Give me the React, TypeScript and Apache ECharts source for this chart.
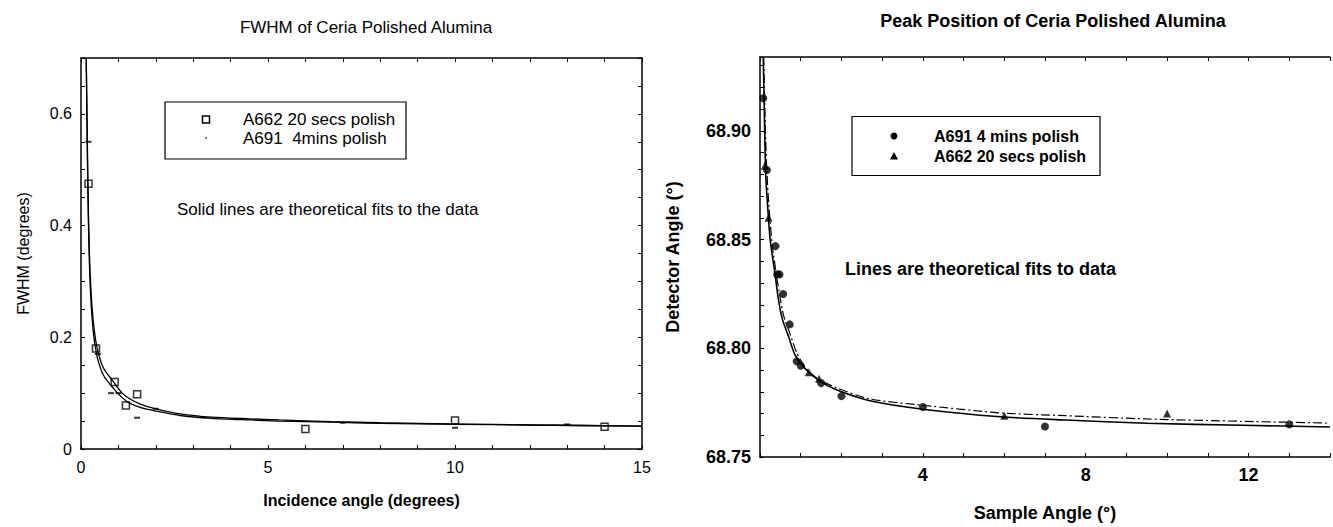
import React, { useEffect, useRef } from "react";
import * as echarts from "echarts";

// ---------- Left chart: FWHM ----------
const fwhmA662X = [0.2, 0.4, 0.9, 1.2, 1.5, 6, 10, 14];
const fwhmA662Y = [0.475, 0.18, 0.12, 0.078, 0.098, 0.036, 0.051, 0.04];
const fwhmA691X = [0.2, 0.45, 0.8, 1.0, 1.5, 2.0, 7, 10, 13];
const fwhmA691Y = [0.55, 0.17, 0.1, 0.1, 0.056, 0.072, 0.047, 0.038, 0.044];
const fwhmFitX = [0.14, 0.16, 0.18, 0.2, 0.23, 0.27, 0.32, 0.37, 0.45, 0.6, 0.86, 1.1, 1.3, 1.6, 2.0, 2.65, 3.5, 4.5, 5.3, 6.7, 8, 10, 12, 15];
const fwhmFitUpperY = [0.7, 0.6, 0.5, 0.42, 0.34, 0.28, 0.235, 0.205, 0.175, 0.145, 0.121, 0.1, 0.09, 0.08, 0.072, 0.063, 0.057, 0.054, 0.052, 0.049, 0.047, 0.045, 0.043, 0.041];
const fwhmFitLowerY = [0.7, 0.58, 0.48, 0.4, 0.32, 0.26, 0.215, 0.188, 0.16, 0.132, 0.109, 0.092, 0.082, 0.074, 0.068, 0.06, 0.055, 0.052, 0.05, 0.048, 0.046, 0.044, 0.043, 0.041];

// ---------- Right chart: Peak position ----------
const peakA691X = [0.08, 0.17, 0.38, 0.42, 0.48, 0.57, 0.73, 0.9, 1.0, 1.5, 2.0, 4.0, 7.0, 13.0];
const peakA691Y = [68.915, 68.882, 68.847, 68.834, 68.834, 68.825, 68.811, 68.794, 68.792, 68.784, 68.778, 68.773, 68.764, 68.765];
const peakA662X = [0.12, 0.21, 1.2, 1.45, 6.0, 10.0];
const peakA662Y = [68.884, 68.86, 68.789, 68.786, 68.769, 68.77];
const peakFitSolidX = [0.08, 0.1, 0.14, 0.2, 0.25, 0.3, 0.37, 0.44, 0.54, 0.7, 0.86, 1.14, 1.46, 1.86, 2.67, 4, 5.9, 7.5, 9.5, 11.85, 14];
const peakFitSolidY = [68.934, 68.915, 68.88, 68.862, 68.85, 68.843, 68.834, 68.824, 68.814, 68.8055, 68.797, 68.79, 68.785, 68.781, 68.776, 68.772, 68.7685, 68.767, 68.7655, 68.7646, 68.7638];
const peakFitDashX = [0.09, 0.12, 0.16, 0.22, 0.3, 0.4, 0.48, 0.58, 0.75, 0.9, 1.14, 1.46, 1.86, 2.67, 4, 5.9, 7.5, 9.5, 11.85, 14];
const peakFitDashY = [68.934, 68.91, 68.885, 68.865, 68.848, 68.834, 68.825, 68.815, 68.806, 68.798, 68.7905, 68.7855, 68.782, 68.7768, 68.7738, 68.7703, 68.769, 68.7675, 68.7664, 68.7656];

const leftTitle = "FWHM of Ceria Polished Alumina";
const rightTitle = "Peak Position of Ceria Polished Alumina";
const leftLegend = ["A662 20 secs polish", "A691  4mins polish"];
const rightLegend = ["A691 4 mins polish", "A662 20 secs polish"];
const leftNote = "Solid lines are theoretical fits to the data";
const rightNote = "Lines are theoretical fits to data";

const FF = "'Liberation Sans', Arial, Helvetica, sans-serif";

const zip = (xs: number[], ys: number[]) => xs.map((x, i) => [x, ys[i]]);

const baseAxis = (extra: any) => ({
  type: "value",
  axisLine: { show: true, onZero: false, lineStyle: { color: "#000", width: 1.5 } },
  axisTick: { show: true, inside: true, length: 4, lineStyle: { color: "#000", width: 1 } },
  splitLine: { show: false },
  ...extra,
});

export default function App() {
  const ref = useRef<HTMLDivElement>(null);
  useEffect(() => {
    if (!ref.current) return;
    const chart = echarts.init(ref.current, null, { renderer: "svg" });
    const lblL = { color: "#000", fontSize: 16, fontFamily: FF };
    const lblR = { color: "#000", fontSize: 18, fontWeight: "bold", fontFamily: FF };
    chart.setOption({
      animation: false,
      backgroundColor: "#fff",
      title: [
        {
          text: leftTitle,
          left: 361,
          top: 14,
          textAlign: "center",
          textStyle: { fontSize: 17, fontWeight: "normal", color: "#000", fontFamily: FF },
        },
        {
          text: rightTitle,
          left: 1048,
          top: 7,
          textAlign: "center",
          textStyle: { fontSize: 18, fontWeight: "bold", color: "#000", fontFamily: FF },
        },
      ],
      grid: [
        { left: 81, top: 58, width: 561, height: 391 },
        { left: 760, top: 57, width: 578, height: 404 },
      ],
      xAxis: [
        baseAxis({
          gridIndex: 0,
          position: "bottom",
          min: 0,
          max: 15,
          interval: 1,
          axisLabel: { ...lblL, margin: 10, formatter: (v: number) => (v % 5 === 0 ? String(v) : "") },
          name: "Incidence angle (degrees)",
          nameLocation: "middle",
          nameGap: 43,
          nameTextStyle: { fontSize: 16, fontWeight: "bold", color: "#000", fontFamily: FF },
        }),
        baseAxis({ gridIndex: 0, position: "top", min: 0, max: 15, interval: 1, axisLabel: { show: false } }),
        baseAxis({
          gridIndex: 1,
          position: "bottom",
          min: 0,
          max: 14,
          interval: 1,
          axisLabel: { ...lblR, margin: 9, formatter: (v: number) => (v > 0 && v % 4 === 0 ? String(v) : "") },
          name: "Sample Angle (°)",
          nameLocation: "middle",
          nameGap: 47,
          nameTextStyle: { fontSize: 18, fontWeight: "bold", color: "#000", fontFamily: FF },
        }),
        baseAxis({ gridIndex: 1, position: "top", min: 0, max: 14, interval: 1, axisLabel: { show: false } }),
      ],
      yAxis: [
        baseAxis({
          gridIndex: 0,
          position: "left",
          min: 0,
          max: 0.7,
          interval: 0.05,
          axisLabel: {
            ...lblL,
            margin: 9,
            formatter: (v: number) => {
              const k = Math.round(v / 0.05);
              return k % 4 === 0 ? (k === 0 ? "0" : String(+(k * 0.05).toFixed(1))) : "";
            },
          },
          name: "FWHM (degrees)",
          nameLocation: "middle",
          nameGap: 50,
          nameTextStyle: { fontSize: 16, fontWeight: "normal", color: "#000", fontFamily: FF },
        }),
        baseAxis({ gridIndex: 0, position: "right", min: 0, max: 0.7, interval: 0.05, axisLabel: { show: false } }),
        baseAxis({
          gridIndex: 1,
          position: "left",
          min: 68.75,
          max: 68.934,
          interval: 0.01,
          axisLabel: {
            ...lblR,
            margin: 9,
            formatter: (v: number) => {
              const k = Math.round(v * 100);
              return k % 5 === 0 ? (k / 100).toFixed(2) : "";
            },
          },
          name: "Detector Angle (°)",
          nameLocation: "middle",
          nameGap: 78,
          nameTextStyle: { fontSize: 18, fontWeight: "bold", color: "#000", fontFamily: FF },
        }),
      ],
      series: [
        {
          name: "fit A662",
          type: "line",
          xAxisIndex: 0,
          yAxisIndex: 0,
          data: zip(fwhmFitX, fwhmFitUpperY),
          showSymbol: false,
          smooth: 0.25,
          lineStyle: { color: "#000", width: 1.3 },
        },
        {
          name: "fit A691",
          type: "line",
          xAxisIndex: 0,
          yAxisIndex: 0,
          data: zip(fwhmFitX, fwhmFitLowerY),
          showSymbol: false,
          smooth: 0.25,
          lineStyle: { color: "#000", width: 1.3 },
        },
        {
          name: leftLegend[0],
          type: "scatter",
          xAxisIndex: 0,
          yAxisIndex: 0,
          data: zip(fwhmA662X, fwhmA662Y),
          symbol: "rect",
          symbolSize: 7,
          itemStyle: { color: "#fff", borderColor: "#000", borderWidth: 1.5 },
        },
        {
          name: leftLegend[1],
          type: "scatter",
          xAxisIndex: 0,
          yAxisIndex: 0,
          data: zip(fwhmA691X, fwhmA691Y),
          symbol: "rect",
          symbolSize: [6, 2],
          itemStyle: { color: "#000" },
        },
        {
          name: "fit solid",
          type: "line",
          xAxisIndex: 2,
          yAxisIndex: 2,
          data: zip(peakFitSolidX, peakFitSolidY),
          showSymbol: false,
          smooth: 0.25,
          lineStyle: { color: "#000", width: 1.6 },
        },
        {
          name: "fit dash",
          type: "line",
          xAxisIndex: 2,
          yAxisIndex: 2,
          data: zip(peakFitDashX, peakFitDashY),
          showSymbol: false,
          smooth: 0.25,
          lineStyle: { color: "#000", width: 1.2, type: [9, 3, 2, 3] },
        },
        {
          name: rightLegend[0],
          type: "scatter",
          xAxisIndex: 2,
          yAxisIndex: 2,
          data: zip(peakA691X, peakA691Y),
          symbol: "circle",
          symbolSize: 8,
          itemStyle: { color: "#000" },
        },
        {
          name: rightLegend[1],
          type: "scatter",
          xAxisIndex: 2,
          yAxisIndex: 2,
          data: zip(peakA662X, peakA662Y),
          symbol: "triangle",
          symbolSize: 8,
          itemStyle: { color: "#000" },
        },
      ],
      graphic: [
        {
          type: "text",
          x: 177,
          y: 209,
          style: { text: leftNote, fill: "#000", font: `17px ${FF}`, verticalAlign: "middle", textVerticalAlign: "middle" },
        },
        { type: "rect", shape: { x: 165, y: 102, width: 241, height: 57 }, style: { fill: "#fff", stroke: "#000", lineWidth: 1.2 }, z: 10 },
        { type: "rect", shape: { x: 202.5, y: 116, width: 7, height: 7 }, style: { fill: "#fff", stroke: "#000", lineWidth: 1.5 }, z: 11 },
        { type: "rect", shape: { x: 205, y: 137, width: 2, height: 2 }, style: { fill: "#777" }, z: 11 },
        {
          type: "text",
          x: 243,
          y: 119.5,
          z: 11,
          style: { text: leftLegend[0], fill: "#000", font: `17px ${FF}`, verticalAlign: "middle", textVerticalAlign: "middle" },
        },
        {
          type: "text",
          x: 243,
          y: 138,
          z: 11,
          style: { text: leftLegend[1], fill: "#000", font: `17px ${FF}`, verticalAlign: "middle", textVerticalAlign: "middle" },
        },
        {
          type: "text",
          x: 845,
          y: 269,
          style: { text: rightNote, fill: "#000", font: `bold 18px ${FF}`, verticalAlign: "middle", textVerticalAlign: "middle" },
        },
        { type: "rect", shape: { x: 852, y: 116.5, width: 248, height: 59 }, style: { fill: "#fff", stroke: "#000", lineWidth: 1.2 }, z: 10 },
        { type: "circle", shape: { cx: 894, cy: 136, r: 3.5 }, style: { fill: "#000" }, z: 11 },
        { type: "polygon", shape: { points: [[894, 152], [898, 159.5], [890, 159.5]] }, style: { fill: "#000" }, z: 11 },
        {
          type: "text",
          x: 934,
          y: 136,
          z: 11,
          style: { text: rightLegend[0], fill: "#000", font: `bold 16px ${FF}`, verticalAlign: "middle", textVerticalAlign: "middle" },
        },
        {
          type: "text",
          x: 934,
          y: 156,
          z: 11,
          style: { text: rightLegend[1], fill: "#000", font: `bold 16px ${FF}`, verticalAlign: "middle", textVerticalAlign: "middle" },
        },
      ],
    });
    return () => chart.dispose();
  }, []);
  return <div ref={ref} style={{ position: "absolute", left: 0, top: 0, width: 1333, height: 527 }} />;
}
